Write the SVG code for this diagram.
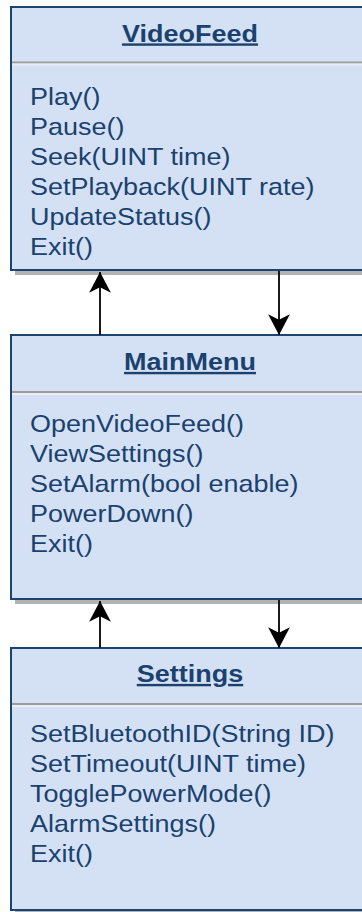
<svg xmlns="http://www.w3.org/2000/svg" width="362" height="912" viewBox="0 0 362 912">
  <style>
    .shadow { fill: #b3b3b3; }
    .box { fill: #d4e1f5; stroke: #1c4471; stroke-width: 2; }
    .div1 { stroke: #9c9c9c; stroke-width: 2; }
    .div2 { stroke: #e8edf5; stroke-width: 2; }
    .hdr { font-family: "Liberation Sans", Arial, sans-serif; font-size: 24px; font-weight: bold; fill: #1b416f; text-anchor: middle; text-decoration: underline; }
    .item { font-family: "Liberation Sans", Arial, sans-serif; font-size: 24px; fill: #1b416f; }
    .conn { stroke: #1a1a1a; stroke-width: 2; fill: none; }
  </style>
  <defs>
    <marker id="arrow" markerUnits="userSpaceOnUse" markerWidth="24" markerHeight="24" viewBox="-20 -11 22 22" refX="0" refY="0" orient="auto">
      <path d="M0,0 L-19,-10 L-14,0 L-19,10 Z" fill="#000000"/>
    </marker>
  </defs>

  <g id="VideoFeed">
    <rect class="shadow" x="15" y="11" width="360" height="264"/>
    <rect class="box" x="11" y="7" width="360" height="263"/>
    <line class="div1" x1="12" y1="62.5" x2="371" y2="62.5"/>
    <line class="div2" x1="12" y1="64.5" x2="371" y2="64.5"/>
    <text class="hdr" transform="translate(190,41.5) scale(1.125,1)">VideoFeed</text>
    <text class="item" transform="translate(30,105) scale(1.125,1)">Play()</text>
    <text class="item" transform="translate(30,135) scale(1.125,1)">Pause()</text>
    <text class="item" transform="translate(30,165) scale(1.125,1)">Seek(UINT time)</text>
    <text class="item" transform="translate(30,195) scale(1.125,1)">SetPlayback(UINT rate)</text>
    <text class="item" transform="translate(30,225) scale(1.125,1)">UpdateStatus()</text>
    <text class="item" transform="translate(30,255) scale(1.125,1)">Exit()</text>
  </g>

  <g id="MainMenu">
    <rect class="shadow" x="15" y="339" width="360" height="265"/>
    <rect class="box" x="11" y="335" width="360" height="264"/>
    <line class="div1" x1="12" y1="392" x2="371" y2="392"/>
    <line class="div2" x1="12" y1="394" x2="371" y2="394"/>
    <text class="hdr" transform="translate(190,370) scale(1.125,1)">MainMenu</text>
    <text class="item" transform="translate(30,432) scale(1.125,1)">OpenVideoFeed()</text>
    <text class="item" transform="translate(30,462) scale(1.125,1)">ViewSettings()</text>
    <text class="item" transform="translate(30,492) scale(1.125,1)">SetAlarm(bool enable)</text>
    <text class="item" transform="translate(30,522) scale(1.125,1)">PowerDown()</text>
    <text class="item" transform="translate(30,552) scale(1.125,1)">Exit()</text>
  </g>

  <g id="Settings">
    <rect class="shadow" x="15" y="652" width="360" height="262"/>
    <rect class="box" x="11" y="648" width="360" height="262"/>
    <line class="div1" x1="12" y1="704" x2="371" y2="704"/>
    <line class="div2" x1="12" y1="706" x2="371" y2="706"/>
    <text class="hdr" transform="translate(190,682) scale(1.125,1)">Settings</text>
    <text class="item" transform="translate(30,742) scale(1.125,1)">SetBluetoothID(String ID)</text>
    <text class="item" transform="translate(30,772) scale(1.125,1)">SetTimeout(UINT time)</text>
    <text class="item" transform="translate(30,802) scale(1.125,1)">TogglePowerMode()</text>
    <text class="item" transform="translate(30,832) scale(1.125,1)">AlarmSettings()</text>
    <text class="item" transform="translate(30,862) scale(1.125,1)">Exit()</text>
  </g>

  <g id="connectors">
    <line class="conn" x1="100" y1="335" x2="100" y2="272" marker-end="url(#arrow)"/>
    <line class="conn" x1="279" y1="271" x2="279" y2="335" marker-end="url(#arrow)"/>
    <line class="conn" x1="100" y1="648" x2="100" y2="601" marker-end="url(#arrow)"/>
    <line class="conn" x1="279" y1="600" x2="279" y2="648" marker-end="url(#arrow)"/>
  </g>
</svg>
